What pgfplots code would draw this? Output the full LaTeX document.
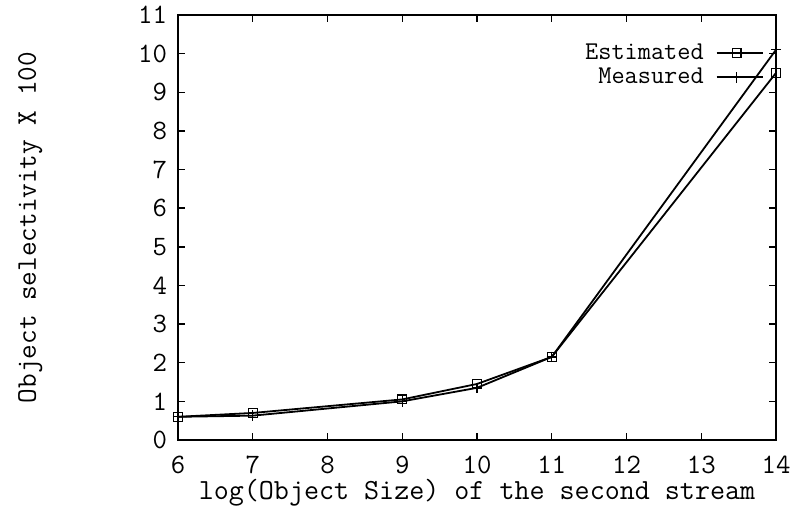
\documentclass[border=0pt]{standalone}
\usepackage{pgfplots}
\pgfplotsset{compat=1.18}
\begin{document}
\begin{tikzpicture}
\begin{axis}[
    scale only axis,
    width=299pt,
    height=212.5pt,
    xmin=6, xmax=14,
    ymin=0, ymax=11,
    xtick={6,...,14},
    ytick={0,...,11},
    tick align=inside,
    major tick length=3.5pt,
    axis line style={line width=0.9pt},
    every tick/.style={black, line width=0.7pt},
    /pgf/number format/assume math mode=true,
    tick label style={font=\ttfamily\fontsize{14}{16}\selectfont},
    xticklabel style={anchor=base, yshift=-17pt},
    yticklabel style={xshift=-2pt},
    xlabel={log(Object Size) of the second stream},
    xlabel style={at={(axis description cs:0.5,0)}, anchor=base, yshift=-30pt, font=\ttfamily\fontsize{14.6}{16}\selectfont},
    ylabel={Object selectivity X 100},
    ylabel style={at={(axis description cs:-0.247,0.5)}, anchor=center, font=\ttfamily\fontsize{14.2}{16}\selectfont},
    clip=false,
    legend style={draw=none, fill=none, at={(rel axis cs:1,1)}, anchor=north east,
        xshift=-3pt, yshift=-10pt, font=\ttfamily\fontsize{12.8}{14}\selectfont,
        row sep=-1pt, column sep=4pt},
    legend cell align=right,
    legend plot pos=right,
    legend image code/.code={\draw[mark repeat=2,mark phase=2,#1] plot coordinates {(0pt,0pt)(10pt,0pt)(23pt,0pt)};},
]
\addplot[black, line width=0.9pt, mark=square, mark size=2.2pt, mark options={line width=0.6pt}]
    coordinates {(6,0.6) (7,0.7) (9,1.05) (10,1.45) (11,2.15) (14,9.5)};
\addlegendentry{Estimated}
\addplot[black, line width=0.9pt, mark=+, mark size=2.6pt, mark options={line width=0.6pt}]
    coordinates {(6,0.6) (7,0.63) (9,1.0) (10,1.35) (11,2.15) (14,10.1)};
\addlegendentry{Measured}
\end{axis}
\pgfresetboundingbox
\path[use as bounding box] ([xshift=-89pt,yshift=-36pt]current axis.south west) rectangle ([xshift=8.5pt,yshift=7.5pt]current axis.north east);
\end{tikzpicture}
\end{document}
